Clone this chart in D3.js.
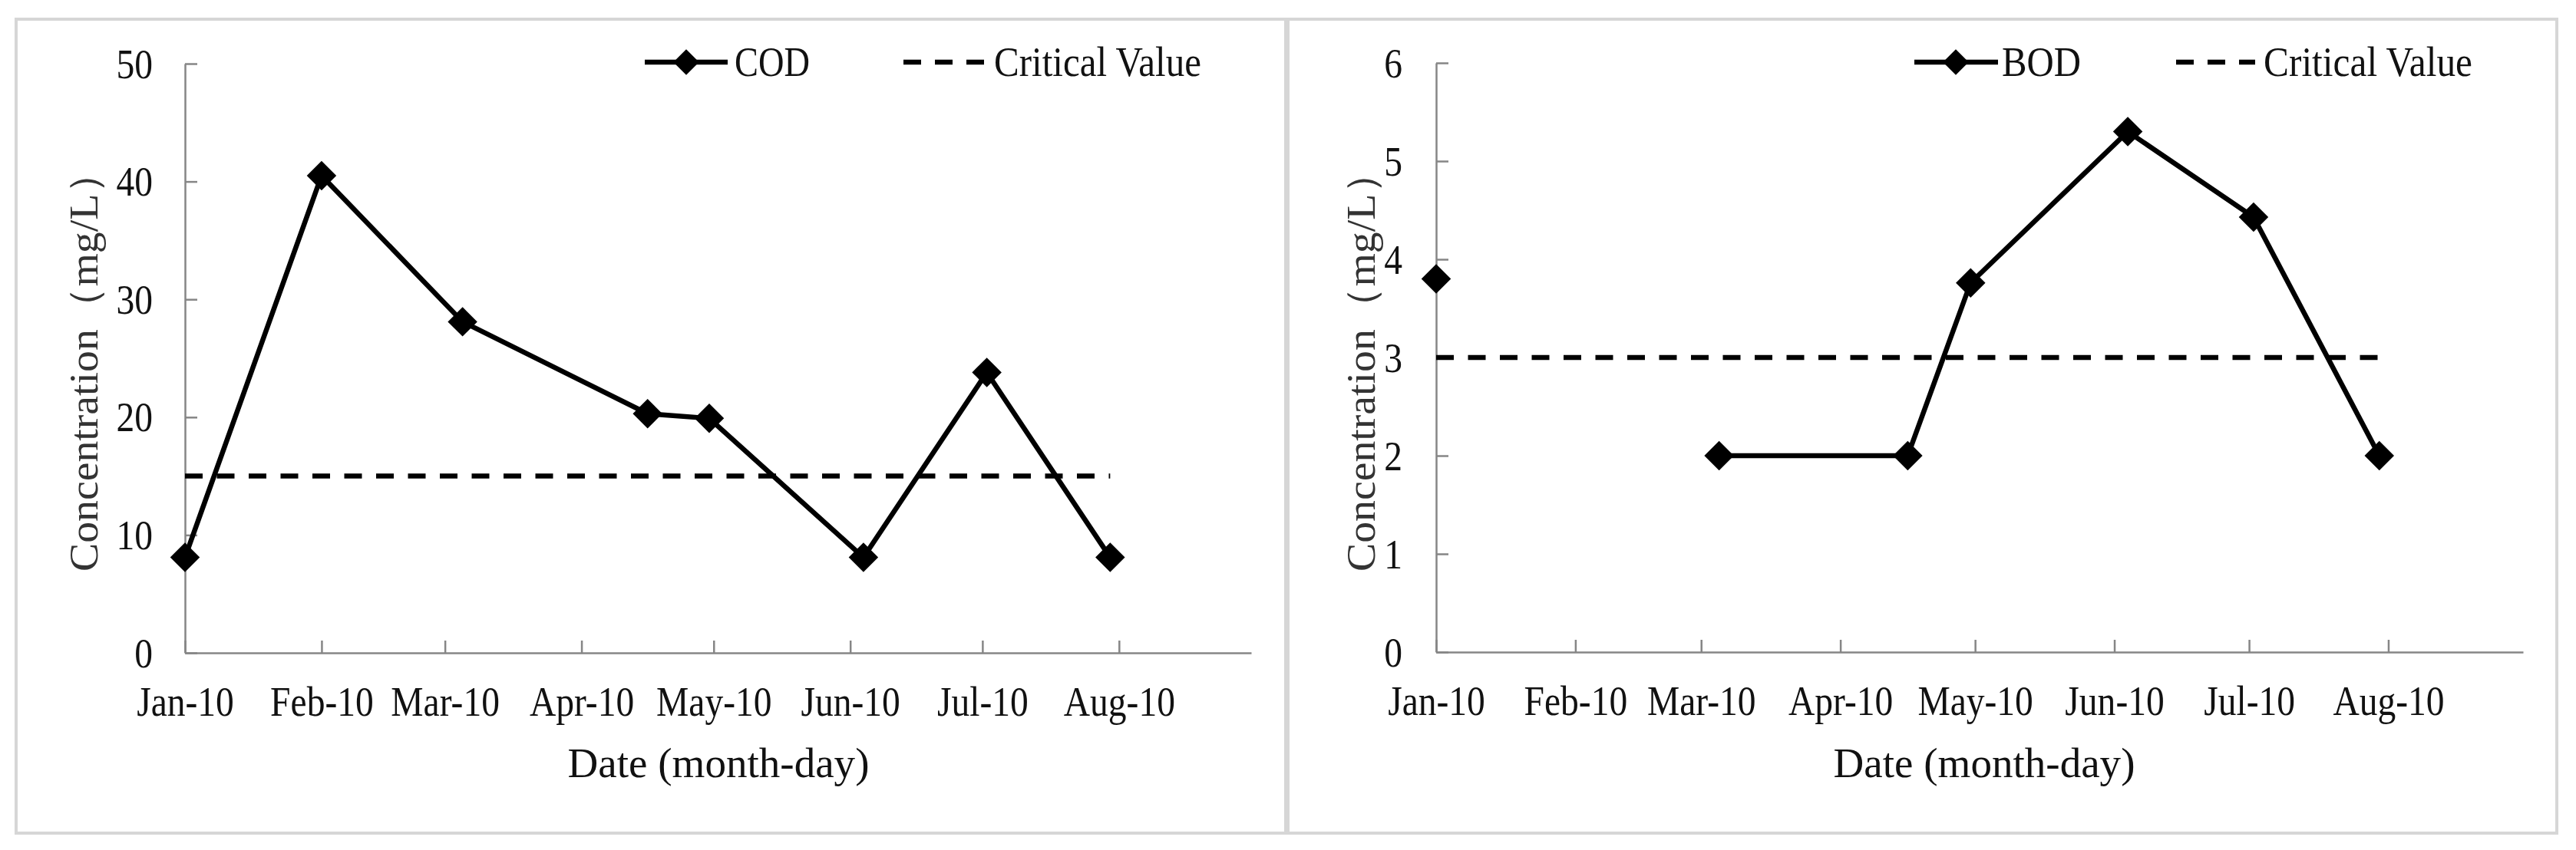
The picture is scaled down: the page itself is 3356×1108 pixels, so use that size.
<!DOCTYPE html>
<html><head><meta charset="utf-8">
<script src="https://cdn.jsdelivr.net/npm/d3@7"></script>
<style>html,body{margin:0;padding:0;background:#fff;} svg{display:block;}</style>
</head><body>
<svg id="chart" width="3356" height="1108"></svg>
<script>
// ---------------- DATA ----------------
const sampleDates = ["2010-01-01","2010-02-01","2010-03-05","2010-04-16","2010-04-30","2010-06-04","2010-07-02","2010-07-30"];
const codValues = [8.1, 40.5, 28.1, 20.3, 19.9, 8.1, 23.8, 8.1];
const bodValues = [3.8, null, 2.0, 2.0, 3.76, 5.3, 4.43, 2.0];
const codCritical = 15;
const bodCritical = 3;
const codYTicks = [0, 10, 20, 30, 40, 50];
const bodYTicks = [0, 1, 2, 3, 4, 5, 6];
const xDomainDates = ["2010-01-01", "2010-08-31"];
const xTickDates = ["2010-01-01","2010-02-01","2010-03-01","2010-04-01","2010-05-01","2010-06-01","2010-07-01","2010-08-01"];
const seriesNames = ["COD", "BOD"];
const criticalLabel = "Critical Value";
const xAxisTitle = "Date (month-day)";
const yAxisTitle = "Concentration\uFF08mg/L\uFF09";

// ---------------- LAYOUT ----------------
const parse = d3.utcParse("%Y-%m-%d");
const FONT = "'Liberation Serif','Times New Roman',serif";
const svg = d3.select("#chart");

const panels = [
  { name: seriesNames[0], values: codValues, critical: codCritical, ticks: codYTicks,
    frame: [21, 25, 1654, 1061], x0: 241, x1: 1630, yTop: 83, yBot: 851,
    ylabGap: 42, yTitleX: 127, xTitleX: 936,
    leg: { l0: 840, l1: 948, m: 894, t1: 957, t1w: 98, d0: 1177, d1: 1282, t2: 1295, t2w: 270 } },
  { name: seriesNames[1], values: bodValues, critical: bodCritical, ticks: bodYTicks,
    frame: [1678, 25, 1653, 1061], x0: 1871, x1: 3287, yTop: 82, yBot: 850,
    ylabGap: 44, yTitleX: 1791, xTitleX: 2585,
    leg: { l0: 2494, l1: 2603, m: 2548, t1: 2608, t1w: 103, d0: 2835, d1: 2938, t2: 2949, t2w: 272 } }
];

const AXIS_COLOR = "#868686";
const TEXT_COLOR = "#111";
const LINE_W = 6.5;
const diamond = d3.symbol().type(d3.symbolSquare).size(740);
const legendDiamond = d3.symbol().type(d3.symbolSquare).size(560);

panels.forEach(p => {
  // frame
  svg.append("rect")
    .attr("x", p.frame[0]).attr("y", p.frame[1])
    .attr("width", p.frame[2]).attr("height", p.frame[3])
    .attr("fill", "none").attr("stroke", "#d6d6d6").attr("stroke-width", 4);

  const x = d3.scaleUtc().domain(xDomainDates.map(parse)).range([p.x0, p.x1]);
  const y = d3.scaleLinear().domain([d3.min(p.ticks), d3.max(p.ticks)]).range([p.yBot, p.yTop]);

  // Y axis
  const gy = svg.append("g").attr("transform", `translate(${p.x0},0)`)
    .call(d3.axisLeft(y).tickValues(p.ticks).tickSizeInner(-16).tickSizeOuter(0).tickFormat(d3.format("d")));
  gy.select(".domain").attr("stroke", AXIS_COLOR).attr("stroke-width", 2.5);
  gy.selectAll(".tick line").attr("stroke", AXIS_COLOR).attr("stroke-width", 2.5);
  gy.selectAll(".tick text")
    .attr("x", null).attr("dy", null)
    .attr("transform", `translate(${-p.ylabGap},18) scale(0.88,1)`)
    .attr("text-anchor", "end")
    .attr("font-family", FONT).attr("font-size", 54).attr("fill", TEXT_COLOR);

  // X axis
  const gx = svg.append("g").attr("transform", `translate(0,${p.yBot})`)
    .call(d3.axisBottom(x).tickValues(xTickDates.map(parse)).tickSizeInner(-16).tickSizeOuter(0)
      .tickFormat(d3.utcFormat("%b-%y")));
  gx.select(".domain").attr("stroke", AXIS_COLOR).attr("stroke-width", 2.5);
  gx.selectAll(".tick line").attr("stroke", AXIS_COLOR).attr("stroke-width", 2.5);
  gx.selectAll(".tick text")
    .attr("y", null).attr("dy", null)
    .attr("transform", `translate(0,82) scale(0.88,1)`)
    .attr("text-anchor", "middle")
    .attr("font-family", FONT).attr("font-size", 54).attr("fill", TEXT_COLOR);

  // Axis titles
  svg.append("text").text(xAxisTitle)
    .attr("x", p.xTitleX).attr("y", 1013).attr("text-anchor", "middle")
    .attr("textLength", 393).attr("lengthAdjust", "spacingAndGlyphs")
    .attr("font-family", FONT).attr("font-size", 54).attr("fill", TEXT_COLOR);
  svg.append("text").text(yAxisTitle)
    .attr("transform", `translate(${p.yTitleX},471) rotate(-90)`)
    .attr("text-anchor", "middle")
    .attr("textLength", 548).attr("lengthAdjust", "spacingAndGlyphs")
    .attr("font-family", FONT).attr("font-size", 52).attr("fill", "#333");

  // Data
  const pts = sampleDates.map((d, i) => ({ date: parse(d), v: p.values[i] }));

  // critical line
  const critPts = [pts[0].date, pts[pts.length - 1].date].map(d => ({ date: d, v: p.critical }));
  svg.append("path").datum(critPts)
    .attr("d", d3.line().x(d => x(d.date)).y(d => y(d.v)))
    .attr("fill", "none").attr("stroke", "#000").attr("stroke-width", LINE_W)
    .attr("stroke-dasharray", "23 18.5");

  // series line
  svg.append("path").datum(pts)
    .attr("d", d3.line().defined(d => d.v != null).x(d => x(d.date)).y(d => y(d.v)))
    .attr("fill", "none").attr("stroke", "#000").attr("stroke-width", LINE_W).attr("stroke-linejoin", "miter");

  svg.append("g").selectAll("path").data(pts.filter(d => d.v != null)).join("path")
    .attr("d", diamond)
    .attr("transform", d => `translate(${x(d.date)},${y(d.v)}) rotate(45)`)
    .attr("fill", "#000");

  // Legend
  const L = p.leg, ly = 81, lb = 99;
  svg.append("line").attr("x1", L.l0).attr("x2", L.l1).attr("y1", ly).attr("y2", ly)
    .attr("stroke", "#000").attr("stroke-width", LINE_W);
  svg.append("path").attr("d", legendDiamond)
    .attr("transform", `translate(${L.m},${ly}) rotate(45)`).attr("fill", "#000");
  svg.append("text").text(p.name).attr("x", L.t1).attr("y", lb)
    .attr("textLength", L.t1w).attr("lengthAdjust", "spacingAndGlyphs")
    .attr("font-family", FONT).attr("font-size", 55).attr("fill", TEXT_COLOR);
  svg.append("line").attr("x1", L.d0).attr("x2", L.d1).attr("y1", ly).attr("y2", ly)
    .attr("stroke", "#000").attr("stroke-width", LINE_W).attr("stroke-dasharray", "23 18");
  svg.append("text").text(criticalLabel).attr("x", L.t2).attr("y", lb)
    .attr("textLength", L.t2w).attr("lengthAdjust", "spacingAndGlyphs")
    .attr("font-family", FONT).attr("font-size", 55).attr("fill", TEXT_COLOR);
});
</script>
</body></html>
